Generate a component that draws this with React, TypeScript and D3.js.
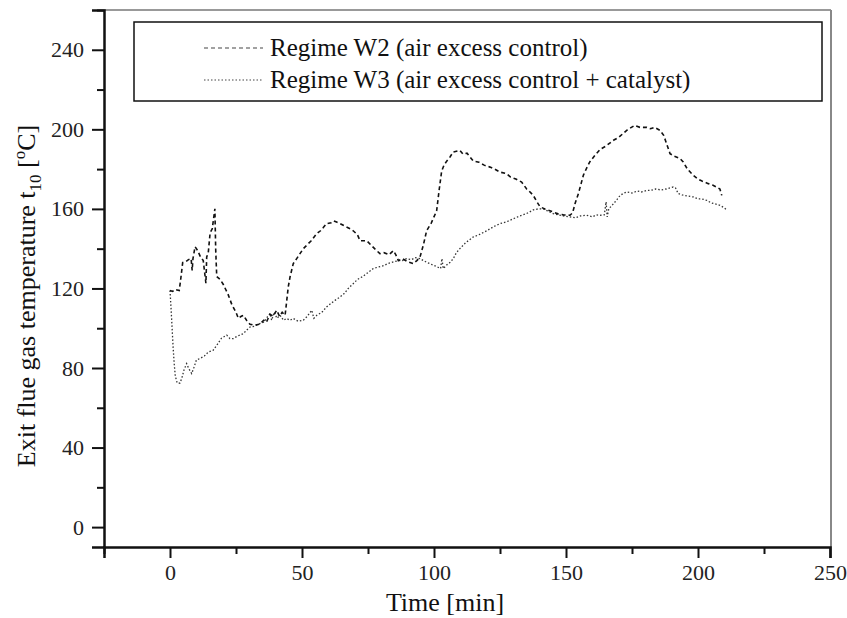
import React from "react";
import * as d3 from "d3";

// readings (time in min, temperature in °C)
const w2Time = [0, 1, 2, 3.5, 4, 4.8, 6, 7, 8, 8.4, 8.7, 9.5, 10.5, 11.5, 12.6, 13.6, 13.9, 14.5, 15.2, 16, 16.5, 17, 17.3, 17.7, 19, 20.2, 22, 23.4, 25, 25.9, 27, 27.8, 29, 30.3, 32, 34, 35.5, 36.5, 37.9, 39, 40.4, 41.5, 42.5, 43.6, 44.8, 45.5, 46.7, 48, 49, 50.5, 52, 53.5, 55.6, 57, 58, 59.3, 61, 62, 63.1, 64.4, 66, 68.2, 69.4, 71, 72, 74.5, 76, 77.5, 79.5, 81, 83, 84.6, 85.5, 86.5, 88, 90, 92.2, 93.5, 94.7, 96, 97.2, 99, 101, 102, 102.9, 103.8, 104.8, 106, 107.3, 108.5, 109.8, 111, 112.5, 114.9, 117, 119, 121.2, 123, 125, 127.5, 129, 131, 133.2, 135.1, 136, 137.6, 139, 140.2, 142, 145.2, 147, 149, 151.5, 152.5, 153.5, 154.7, 156.6, 158, 159, 161, 163, 165, 168, 170, 173, 176, 178, 180.6, 182, 183.5, 185.6, 187, 189.4, 191, 193.2, 194.4, 196, 198.2, 200, 201.5, 203.9, 205.5, 207, 208.3, 209];
const w2Temp = [119, 118.5, 119.5, 119, 124, 133, 133.5, 134.5, 135, 129, 135, 141, 139, 136, 134, 122.6, 135.8, 138, 148, 150, 155, 160, 140, 126, 124.5, 122, 117, 112, 108, 105, 106, 106.5, 104, 102, 101.5, 102, 104, 103, 107, 106, 109, 106, 108, 106.5, 120.8, 126, 132.5, 135, 137, 140, 142, 144, 147.6, 149, 150.5, 152.6, 153, 154, 153.4, 152.6, 151.5, 150, 149, 147, 144, 144, 142, 140, 137.5, 138, 137, 139, 137, 134, 135, 133.5, 132.5, 134, 135.8, 142, 149, 153, 159, 170, 179, 182, 184, 186, 188.6, 189, 189.4, 187.5, 188, 184, 183.5, 182, 181, 180, 178.5, 177.7, 176, 175, 173.5, 170, 169, 166.8, 163.5, 161, 160, 158.4, 157.5, 157, 156.8, 158, 163, 167.7, 177, 181, 183.6, 187, 190, 191.5, 194.5, 196, 199.5, 202, 201, 201, 200.3, 201, 199.5, 197, 187.8, 186.5, 185.3, 183.6, 180, 176.9, 175, 174, 172.7, 172, 171, 170, 166.8];

const w3Time = [0, 0.4, 0.8, 1.2, 1.6, 2, 2.6, 3.1, 3.8, 4.5, 5.3, 6.3, 7, 8.2, 9, 10, 11.4, 13, 14.5, 16.4, 18, 19.5, 21.5, 22.7, 24, 25.5, 27.8, 29, 30.3, 32, 34, 35.5, 36.5, 37.9, 38.5, 39.5, 40.5, 41.7, 43, 44.2, 45.5, 46.7, 48.5, 50.5, 52, 53.7, 54.5, 55.6, 57.5, 59.3, 61, 62.5, 64.4, 66, 67.5, 69.4, 71, 73, 75, 77, 79, 81, 82.5, 84.6, 86.5, 88, 89.6, 91.5, 93, 94.7, 96, 97.5, 99.7, 101, 102.5, 103, 103.5, 105, 106, 107.3, 108.5, 109.8, 112, 114.9, 117, 120, 122.5, 125, 127.5, 130, 132.6, 135, 137.6, 139.5, 141.4, 143, 145.2, 147, 149, 151.5, 153.5, 155.5, 157.8, 160, 161.5, 163, 164.5, 165.2, 165.6, 166.2, 168, 169.5, 170.5, 172, 173, 175, 177, 178.5, 180.6, 182, 184, 186, 188, 190.6, 191.5, 192.5, 194, 196, 198.2, 200, 201.5, 203.3, 205, 206.5, 208.3, 210, 211];
const w3Temp = [119, 110, 100, 90, 82, 76, 73, 72.2, 72.5, 75, 79, 82.2, 80, 77.2, 80, 84, 84.8, 86, 88, 89, 92, 95, 96.5, 94.8, 94.8, 96, 97.3, 99, 100.6, 101, 102.3, 103, 105, 107.4, 104, 108, 105, 106.5, 104, 104.9, 104, 104.9, 103.5, 104, 106, 109, 105, 106.5, 108, 110.7, 112.5, 114, 115.7, 117.4, 120, 122.4, 124.5, 126, 128, 130, 130.8, 131.5, 132.5, 133.3, 134, 134, 135, 134.5, 135.5, 135, 134, 133, 131.7, 131, 130, 135, 130, 132, 133, 135, 138, 140, 143, 145.9, 147, 149, 151, 152.6, 153.5, 155, 156.5, 157.6, 159.5, 160, 160, 159, 157.6, 157, 156.5, 156, 155.5, 156.5, 156.8, 156, 157, 156.8, 157, 163.5, 156, 160, 162.6, 165, 166.8, 168, 168.5, 168, 169, 168.5, 169.3, 169.3, 170, 169.5, 170, 171, 170.5, 167.7, 167, 166.5, 166, 165, 165, 164.3, 163, 162.5, 161.8, 160.5, 159.3];

const xMajor = [0, 50, 100, 150, 200, 250];
const xMinor = [-25, 25, 75, 125, 175, 225];
const yMajor = [0, 40, 80, 120, 160, 200, 240];
const yMinor = [20, 60, 100, 140, 180, 220, 260];
const legendLabels = ["Regime W2 (air excess control)", "Regime W3 (air excess control + catalyst)"];

const FONT = "'Liberation Serif', 'Times New Roman', serif";

const App = () => {
  const svgRef = React.useRef<SVGSVGElement>(null);

  React.useEffect(() => {
    const svg = d3.select(svgRef.current);
    svg.selectAll("*").remove();

    const x = d3.scaleLinear().domain([-25, 250]).range([104, 830]);
    const y = d3.scaleLinear().domain([-10, 260]).range([547, 10]);

    // frame (top/right in grey)
    svg.append("line").attr("x1", 104).attr("x2", 831).attr("y1", 10).attr("y2", 10)
      .attr("stroke", "#777").attr("stroke-width", 1.5);
    svg.append("line").attr("x1", 831).attr("x2", 831).attr("y1", 10).attr("y2", 547)
      .attr("stroke", "#888").attr("stroke-width", 2);

    // y axis
    const yAxis = svg.append("g").attr("transform", "translate(104,0)")
      .call(d3.axisLeft(y).tickValues(yMajor).tickSize(12).tickPadding(8).tickFormat(d3.format("d")));
    svg.append("g").attr("transform", "translate(104,0)")
      .call(d3.axisLeft(y).tickValues(yMinor).tickSize(7).tickFormat(() => ""))
      .select(".domain").remove();

    // x axis
    const xAxis = svg.append("g").attr("transform", "translate(0,547)")
      .call(d3.axisBottom(x).tickValues(xMajor).tickSize(11).tickPadding(6).tickFormat(d3.format("d")));
    svg.append("g").attr("transform", "translate(0,547)")
      .call(d3.axisBottom(x).tickValues(xMinor).tickSize(7).tickFormat(() => ""))
      .select(".domain").remove();

    svg.selectAll(".domain").attr("stroke", "#111").attr("stroke-width", 2.5);
    svg.selectAll(".tick line").attr("stroke", "#111").attr("stroke-width", 2);
    [yAxis, xAxis].forEach((g) =>
      g.selectAll(".tick text").attr("font-family", FONT).attr("font-size", 22).attr("fill", "#222")
    );

    // series
    const w2 = w2Time.map((t, i) => [t, w2Temp[i]] as [number, number]);
    const w3 = w3Time.map((t, i) => [t, w3Temp[i]] as [number, number]);
    const line = d3.line<[number, number]>().x((d) => x(d[0])).y((d) => y(d[1]));

    svg.append("path").datum(w3).attr("d", line).attr("fill", "none")
      .attr("stroke", "#333").attr("stroke-width", 1.3).attr("stroke-dasharray", "1.5,2");
    svg.append("path").datum(w2).attr("d", line).attr("fill", "none")
      .attr("stroke", "#111").attr("stroke-width", 1.6).attr("stroke-dasharray", "4,3");

    // legend
    svg.append("rect").attr("x", 134).attr("y", 22).attr("width", 688).attr("height", 79)
      .attr("fill", "none").attr("stroke", "#111").attr("stroke-width", 1.5);
    const dashes = ["4,3", "1.5,2"];
    legendLabels.forEach((lab, i) => {
      const ly = 48 + i * 32;
      svg.append("line").attr("x1", 204).attr("x2", 263).attr("y1", ly).attr("y2", ly)
        .attr("stroke", "#444").attr("stroke-width", 1.2).attr("stroke-dasharray", dashes[i]);
      svg.append("text").attr("x", 270).attr("y", ly + 8).attr("font-family", FONT)
        .attr("font-size", 25).attr("fill", "#111").text(lab);
    });

    // axis titles
    svg.append("text").attr("x", 445).attr("y", 611).attr("text-anchor", "middle")
      .attr("font-family", FONT).attr("font-size", 26).attr("fill", "#111").text("Time [min]");

    const yt = svg.append("text").attr("transform", "translate(35,296) rotate(-90)")
      .attr("text-anchor", "middle").attr("font-family", FONT).attr("font-size", 26).attr("fill", "#111");
    yt.append("tspan").text("Exit flue gas temperature t");
    yt.append("tspan").attr("font-size", 17).attr("dy", 6).text("10");
    yt.append("tspan").attr("dy", -6).text(" [");
    yt.append("tspan").attr("font-size", 17).attr("dy", -10).text("o");
    yt.append("tspan").attr("dy", 10).text("C]");
  }, []);

  return (
    <svg
      ref={svgRef}
      width={847}
      height={618}
      style={{ position: "absolute", left: 0, top: 0, background: "#fff" }}
    />
  );
};

export default App;
